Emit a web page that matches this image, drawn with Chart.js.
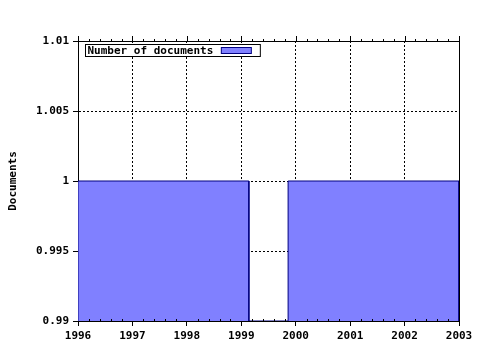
<!DOCTYPE html>
<html lang="en">
<head>
<meta charset="UTF-8">
<title>Number of documents</title>
<script src="https://cdn.jsdelivr.net/npm/chart.js"></script>
<style>
    html, body { margin: 0; padding: 0; background: #fff; }
    #grafico { display: block; }
</style>
</head>
<body>
<canvas id="grafico" width="480" height="350"></canvas>
<script>
// data
const periodStart = [1996, 1999.86];
const periodEnd = [1999.14, 2003];
const documents = [1, 1];
const yearTicks = [1996, 1997, 1998, 1999, 2000, 2001, 2002, 2003];
const yTickLabels = ["0.99", "0.995", "1", "1.005", "1.01"];

const yMin = 0.99, yMax = 1.01;
const fontMono = { family: "'DejaVu Sans Mono', 'Liberation Mono', monospace", size: 11, weight: "bold" };

// outline of each period as a filled block sitting on the axis
const points = [];
periodStart.forEach((s, i) => {
    points.push({ x: s, y: yMin }, { x: s, y: documents[i] });
    points.push({ x: periodEnd[i], y: documents[i] }, { x: periodEnd[i], y: yMin });
});

// frame on top/right, minor ticks and the boxed legend
const frame = {
    id: "frame",
    afterDatasetsDraw(chart) {
        const { ctx, chartArea: a, scales } = chart;
        const x = scales.x;
        ctx.save();
        ctx.strokeStyle = "#000";
        ctx.lineWidth = 1;
        ctx.beginPath();
        ctx.moveTo(a.left, Math.round(a.top) + 0.5);
        ctx.lineTo(a.right + 0.5, Math.round(a.top) + 0.5);
        ctx.moveTo(Math.round(a.right) + 0.5, a.top);
        ctx.lineTo(Math.round(a.right) + 0.5, a.bottom);
        // ticks
        for (let i = 0; i < yearTicks.length; i++) {
            const px = Math.round(x.getPixelForValue(yearTicks[i])) + 0.5;
            ctx.moveTo(px, a.top - 5);
            ctx.lineTo(px, a.top);
            if (i < yearTicks.length - 1) {
                for (let k = 1; k < 5; k++) {
                    const mx = Math.round(x.getPixelForValue(yearTicks[i] + k / 5)) + 0.5;
                    ctx.moveTo(mx, a.top - 2);
                    ctx.lineTo(mx, a.top);
                    ctx.moveTo(mx, a.bottom);
                    ctx.lineTo(mx, a.bottom - 2);
                }
            }
        }
        ctx.stroke();

        // legend
        const ds = chart.data.datasets[0];
        const lx = Math.round(a.left) + 7.5, ly = Math.round(a.top) + 3.5;
        ctx.font = "bold 11px 'DejaVu Sans Mono', 'Liberation Mono', monospace";
        const tw = ctx.measureText(ds.label).width;
        const w = tw + 49, h = 12;
        ctx.fillStyle = "#fff";
        ctx.fillRect(lx, ly, w, h);
        ctx.strokeRect(lx, ly, w, h);
        ctx.fillStyle = "#000";
        ctx.textBaseline = "middle";
        ctx.fillText(ds.label, lx + 2, ly + h / 2 + 1);
        const sx = lx + tw + 10;
        ctx.fillStyle = ds.backgroundColor;
        ctx.fillRect(sx, ly + 3, 30, 6);
        ctx.strokeStyle = ds.borderColor;
        ctx.strokeRect(sx, ly + 3, 30, 6);
        ctx.restore();
    }
};

new Chart(document.getElementById("grafico"), {
    type: "line",
    data: {
        datasets: [{
            label: "Number of documents",
            data: points,
            borderColor: "#000080",
            borderWidth: 1,
            backgroundColor: "#8080ff",
            fill: "start",
            pointRadius: 0,
            tension: 0
        }]
    },
    options: {
        responsive: false,
        animation: false,
        layout: { padding: { top: 41, right: 21, left: 0, bottom: 0 } },
        plugins: { legend: { display: false }, tooltip: { enabled: false } },
        scales: {
            x: {
                type: "linear",
                min: yearTicks[0],
                max: yearTicks[yearTicks.length - 1],
                afterFit: (s) => { s.height = 29; },
                afterBuildTicks: (s) => { s.ticks = yearTicks.map(v => ({ value: v })); },
                ticks: {
                    callback: (v) => String(v),
                    font: fontMono, color: "#000", padding: 4,
                    maxRotation: 0, autoSkip: false
                },
                grid: { color: "#000", tickLength: 5, tickColor: "#000" },
                border: { color: "#000", width: 1, dash: [2, 2] }
            },
            y: {
                min: yMin,
                max: yMax,
                afterFit: (s) => { s.width = 78; },
                afterBuildTicks: (s) => { s.ticks = yTickLabels.map(v => ({ value: parseFloat(v) })); },
                ticks: {
                    callback: (v, i) => yTickLabels[i],
                    font: fontMono, color: "#000", padding: 4
                },
                grid: { color: "#000", tickLength: 5, tickColor: "#000" },
                border: { color: "#000", width: 1, dash: [2, 2] },
                title: {
                    display: true,
                    text: "Documents",
                    font: fontMono, color: "#000",
                    padding: { top: 7, bottom: 0 }
                }
            }
        }
    },
    plugins: [frame]
});
</script>
</body>
</html>
